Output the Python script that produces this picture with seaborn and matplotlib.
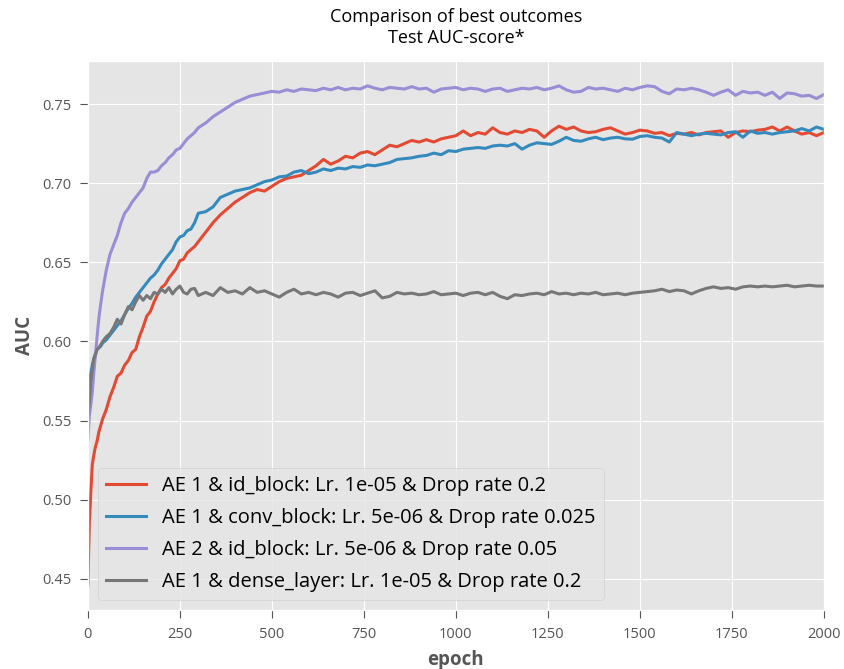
import numpy as np
import pandas as pd
import matplotlib
matplotlib.use("Agg")
import matplotlib.pyplot as plt
import seaborn as sns

# epochs at which the test AUC values are recorded
epochs = [0, 4, 8, 12, 16, 20, 25, 30, 35, 40, 50, 60, 70, 80, 90, 100, 110, 120, 130, 140,
          150, 160, 170, 180, 190, 200, 210, 220, 230, 240, 250, 260, 270, 280, 290, 300] + \
         list(range(320, 2001, 20))

labels = [
    "AE 1 & id_block: Lr. 1e-05 & Drop rate 0.2",
    "AE 1 & conv_block: Lr. 5e-06 & Drop rate 0.025",
    "AE 2 & id_block: Lr. 5e-06 & Drop rate 0.05",
    "AE 1 & dense_layer: Lr. 1e-05 & Drop rate 0.2",
]

ae1_id_block = [
    0.446, 0.485, 0.505, 0.522, 0.528, 0.533, 0.537, 0.543, 0.547, 0.551, 0.557, 0.565, 0.571, 0.578,
    0.580, 0.585, 0.588, 0.593, 0.595, 0.603, 0.609, 0.616, 0.619, 0.625, 0.630, 0.634, 0.636, 0.640,
    0.643, 0.646, 0.651, 0.652, 0.656, 0.658, 0.660, 0.663,
    0.669, 0.675, 0.680, 0.684, 0.688, 0.691, 0.694, 0.696, 0.695, 0.698, 0.701, 0.703, 0.704, 0.705,
    0.708, 0.711, 0.715, 0.712, 0.714, 0.717, 0.716, 0.719, 0.720, 0.718, 0.721, 0.724, 0.723, 0.725,
    0.727, 0.726, 0.7275, 0.726, 0.728, 0.729, 0.730, 0.733, 0.730, 0.732, 0.731, 0.735, 0.732, 0.731,
    0.733, 0.732, 0.734, 0.733, 0.729, 0.733, 0.736, 0.734, 0.7355, 0.733, 0.732, 0.7325, 0.734, 0.735,
    0.733, 0.731, 0.732, 0.7335, 0.733, 0.7315, 0.732, 0.730, 0.7315, 0.731, 0.732, 0.7305, 0.732,
    0.7325, 0.733, 0.729, 0.732, 0.733, 0.7325, 0.7335, 0.734, 0.7355, 0.733, 0.7355, 0.733, 0.731,
    0.732, 0.730, 0.732,
]

ae1_conv_block = [
    0.560, 0.575, 0.580, 0.585, 0.589, 0.592, 0.595, 0.596, 0.597, 0.599, 0.601, 0.604, 0.607, 0.610,
    0.613, 0.617, 0.621, 0.624, 0.628, 0.631, 0.634, 0.637, 0.640, 0.642, 0.645, 0.649, 0.652, 0.655,
    0.658, 0.663, 0.666, 0.667, 0.670, 0.671, 0.675, 0.681,
    0.682, 0.685, 0.691, 0.693, 0.695, 0.696, 0.697, 0.699, 0.701, 0.702, 0.704, 0.7045, 0.707, 0.708,
    0.706, 0.707, 0.709, 0.708, 0.7095, 0.709, 0.7105, 0.710, 0.7115, 0.711, 0.712, 0.713, 0.715,
    0.7155, 0.716, 0.717, 0.7175, 0.719, 0.718, 0.7205, 0.720, 0.7215, 0.722, 0.7225, 0.722, 0.7235,
    0.724, 0.7235, 0.725, 0.7215, 0.724, 0.7255, 0.725, 0.7245, 0.7265, 0.729, 0.727, 0.7265, 0.728,
    0.729, 0.7275, 0.7285, 0.729, 0.728, 0.7278, 0.7295, 0.730, 0.729, 0.7285, 0.726, 0.732, 0.731,
    0.730, 0.731, 0.7315, 0.731, 0.7305, 0.732, 0.7325, 0.729, 0.733, 0.7315, 0.732, 0.731, 0.732,
    0.7325, 0.733, 0.7345, 0.733, 0.7355, 0.734,
]

ae2_id_block = [
    0.538, 0.553, 0.560, 0.568, 0.580, 0.590, 0.603, 0.615, 0.624, 0.632, 0.645, 0.655, 0.661, 0.667,
    0.675, 0.681, 0.684, 0.688, 0.691, 0.694, 0.697, 0.703, 0.707, 0.707, 0.708, 0.711, 0.713, 0.716,
    0.718, 0.721, 0.722, 0.725, 0.728, 0.730, 0.732, 0.735,
    0.738, 0.742, 0.745, 0.748, 0.751, 0.753, 0.755, 0.756, 0.757, 0.758, 0.7575, 0.759, 0.758, 0.7595,
    0.759, 0.7585, 0.760, 0.759, 0.7605, 0.759, 0.760, 0.7595, 0.7615, 0.760, 0.759, 0.7605, 0.760,
    0.7595, 0.761, 0.7595, 0.760, 0.7575, 0.7595, 0.760, 0.7605, 0.759, 0.760, 0.7595, 0.758, 0.7595,
    0.760, 0.758, 0.759, 0.760, 0.7595, 0.7605, 0.759, 0.760, 0.7615, 0.759, 0.7575, 0.758, 0.7605,
    0.7595, 0.760, 0.759, 0.758, 0.760, 0.759, 0.7605, 0.7615, 0.761, 0.758, 0.7565, 0.7595, 0.759,
    0.760, 0.759, 0.7575, 0.7555, 0.7575, 0.759, 0.7555, 0.758, 0.757, 0.7575, 0.7555, 0.7575, 0.7535,
    0.757, 0.7565, 0.755, 0.7555, 0.7535, 0.756,
]

ae1_dense_layer = [
    0.553, 0.562, 0.575, 0.582, 0.589, 0.591, 0.595, 0.596, 0.598, 0.600, 0.603, 0.605, 0.609, 0.614,
    0.611, 0.617, 0.622, 0.620, 0.625, 0.629, 0.626, 0.629, 0.627, 0.631, 0.630, 0.633, 0.631, 0.634,
    0.630, 0.633, 0.635, 0.631, 0.630, 0.633, 0.6335, 0.629,
    0.631, 0.629, 0.634, 0.631, 0.632, 0.630, 0.634, 0.631, 0.632, 0.630, 0.628, 0.631, 0.633, 0.630,
    0.631, 0.6295, 0.631, 0.630, 0.628, 0.6305, 0.631, 0.629, 0.6305, 0.632, 0.6275, 0.6285, 0.631,
    0.630, 0.6305, 0.6295, 0.630, 0.6315, 0.6295, 0.630, 0.6305, 0.629, 0.6305, 0.631, 0.6295, 0.631,
    0.6285, 0.627, 0.6295, 0.629, 0.630, 0.6305, 0.6295, 0.6315, 0.630, 0.6305, 0.6295, 0.6305, 0.630,
    0.631, 0.6295, 0.630, 0.6305, 0.6295, 0.6305, 0.631, 0.6315, 0.632, 0.633, 0.6315, 0.6325, 0.632,
    0.630, 0.632, 0.6335, 0.6345, 0.6335, 0.634, 0.633, 0.6345, 0.635, 0.6345, 0.635, 0.6345, 0.635,
    0.6355, 0.6345, 0.635, 0.6355, 0.635, 0.635,
]

series = [ae1_id_block, ae1_conv_block, ae2_id_block, ae1_dense_layer]
colors = ["#E24A33", "#348ABD", "#988ED5", "#777777"]

df = pd.concat(
    [pd.DataFrame({"epoch": epochs, "AUC": vals, "run": lab}) for lab, vals in zip(labels, series)],
    ignore_index=True,
)

plt.style.use("ggplot")
plt.rcParams["font.family"] = ["Open Sans", "DejaVu Sans"]

fig = plt.figure(figsize=(8.45, 6.69), dpi=100)
ax = fig.add_axes([0.104, 0.088, 0.871, 0.821])

sns.lineplot(data=df, x="epoch", y="AUC", hue="run", hue_order=labels,
             palette=colors, linewidth=2.2, ax=ax, estimator=None, sort=True)

ax.set_xlim(0, 2000)
ax.set_xticks(np.arange(0, 2001, 250))
ax.set_yticks([0.45, 0.50, 0.55, 0.60, 0.65, 0.70, 0.75])
ax.set_yticklabels(["0.45", "0.50", "0.55", "0.60", "0.65", "0.70", "0.75"])
ax.tick_params(labelsize=10.5, colors="#555555", length=6, pad=6)

ax.set_xlabel("epoch", fontsize=13.5, fontweight="bold", color="#555555", labelpad=6)
ax.set_ylabel("AUC", fontsize=13.5, fontweight="bold", color="#555555", labelpad=5)
ax.set_title("Comparison of best outcomes\nTest AUC-score*", fontsize=13, color="black", pad=13)

leg = ax.legend(loc="lower left", fontsize=14.5, frameon=True, handlelength=2.0,
                borderaxespad=0.5, labelspacing=0.6)
leg.get_frame().set_facecolor("#E5E5E5")
leg.get_frame().set_edgecolor("#CCCCCC")

fig.savefig("out.png", dpi=100)
